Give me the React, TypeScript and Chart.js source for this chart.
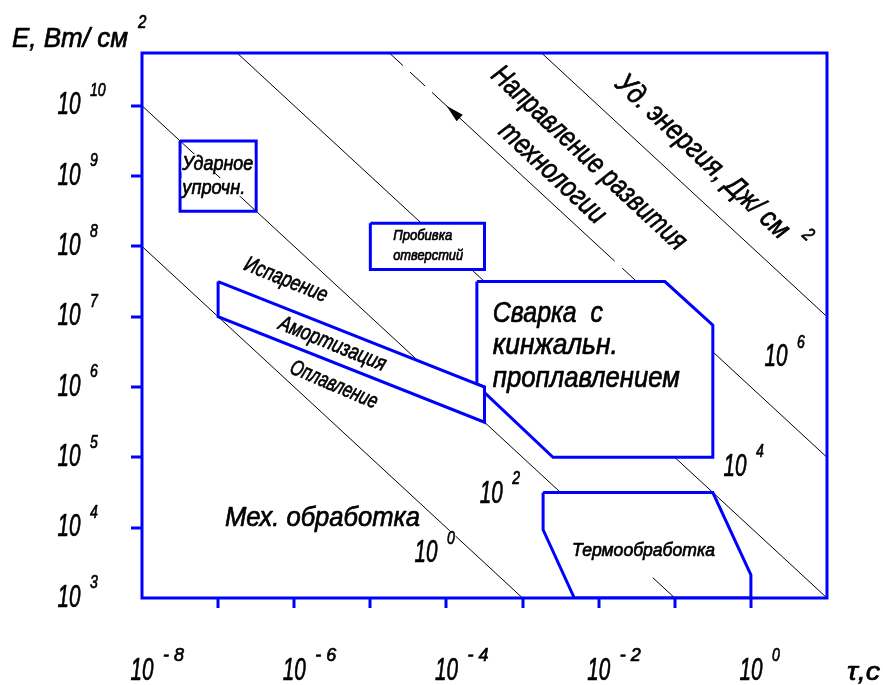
import React, { useEffect, useRef } from "react";
import { Chart, registerables } from "chart.js";

Chart.register(...registerables);

// Axis limits, log10 units: exposure time τ (s) and power density E (W/cm²)
const TAU_MIN_EXP = -8;
const TAU_MAX_EXP = 1;
const E_MIN_EXP = 3;
const E_MAX_EXP = 10.75;

const TAU_TICK_EXPS = [-7, -6, -5, -4, -3, -2, -1, 0];
const TAU_LABEL_EXPS = [-8, -6, -4, -2, 0];
const E_TICK_EXPS = [4, 5, 6, 7, 8, 9, 10];
const E_LABEL_EXPS = [3, 4, 5, 6, 7, 8, 9, 10];

// Lines of constant specific energy W = E·τ, log10 W (J/cm²)
const ENERGY_EXPS = [0, 2, 4, 8];
// The 10^6 line: plain below the welding zone, dashed with an arrow above it
const W6_EXP = 6;
const W6_LOWER = [-1.5, 1];
const W6_DASHES = [
  [-4.75, -4.57],
  [-4.48, -4.28],
  [-1.69, -1.5],
];
const W6_SHAFT = [-4.19, -1.79];
const W6_ARROW_TIP = -4.0;
// Foot of the 10^2 line that shows inside the heat-treatment zone
const W2_EXP = 2;
const W2_TAIL = [-1.29, -1];

// Process zones as [log τ, log E] vertices
const SHOCK_HARDENING = [
  [-7.5, 9.5],
  [-6.5, 9.5],
  [-6.5, 8.5],
  [-7.5, 8.5],
];
const HOLE_PUNCHING = [
  [-5, 8.33],
  [-3.5, 8.33],
  [-3.5, 7.67],
  [-5, 7.67],
];
const MELT_BAND = [
  [-7, 7.5],
  [-3.5, 6.0],
  [-3.5, 5.5],
  [-7, 7.0],
];
const KEYHOLE_WELDING = [
  [-3.6, 7.5],
  [-1.13, 7.5],
  [-0.5, 6.88],
  [-0.5, 5.0],
  [-2.6, 5.0],
  [-3.5, 5.92],
  [-3.5, 6.0],
  [-3.6, 6.04],
];
const HEAT_TREATMENT = [
  [-2.73, 4.5],
  [-0.5, 4.5],
  [0, 3.33],
  [0, 3],
  [-2.32, 3],
  [-2.73, 3.97],
];

// Energy labels: exponent and where "10" sits, [log τ, log E]
const ENERGY_LABEL_EXPS = [0, 2, 4, 6];
const ENERGY_LABEL_AT = [
  [-4.27, 3.63],
  [-3.41, 4.48],
  [-0.21, 4.86],
  [0.33, 6.42],
];

const BLUE = "#0000ff";
const FONT = '"Liberation Sans", Arial, sans-serif';

const pt = (lx: number, ly: number) => ({ x: Math.pow(10, lx), y: Math.pow(10, ly) });
const energySeg = (w: number, from: number, to: number) => [pt(from, w - from), pt(to, w - to)];

const thinLine = (data: any[], extra: any = {}) => ({
  data,
  borderColor: "#000",
  borderWidth: 1,
  pointRadius: 0,
  fill: false,
  order: 5,
  ...extra,
});

const zone = (poly: number[][], filled: boolean) => ({
  data: [...poly, poly[0]].map(([a, b]) => pt(a, b)),
  borderColor: BLUE,
  borderWidth: 3,
  backgroundColor: "#ffffff",
  borderJoinStyle: "miter",
  fill: filled ? "shape" : false,
  pointRadius: 0,
  order: 2,
});

function buildDatasets() {
  const ds: any[] = [];
  ENERGY_EXPS.forEach((w) => ds.push(thinLine(energySeg(w, TAU_MIN_EXP, TAU_MAX_EXP))));
  ds.push(thinLine(energySeg(W6_EXP, W6_LOWER[0], W6_LOWER[1])));
  W6_DASHES.forEach(([a, b]) => ds.push(thinLine(energySeg(W6_EXP, a, b))));
  ds.push(thinLine(energySeg(W6_EXP, W6_SHAFT[0], W6_SHAFT[1])));
  ds.push(zone(SHOCK_HARDENING, false));
  ds.push(zone(HOLE_PUNCHING, true));
  ds.push(zone(MELT_BAND, true));
  ds.push(zone(KEYHOLE_WELDING, true));
  ds.push(zone(HEAT_TREATMENT, true));
  ds.push(thinLine(energySeg(W2_EXP, W2_TAIL[0], W2_TAIL[1]), { order: 0 }));
  return ds;
}

type TextOpts = {
  width?: number;
  squeeze?: number;
  angle?: number;
  align?: CanvasTextAlign;
  baseline?: CanvasTextBaseline;
  bg?: boolean;
};

function text(ctx: CanvasRenderingContext2D, s: string, x: number, y: number, size: number, o: TextOpts = {}) {
  const { width, squeeze = 0.8, angle = 0, align = "left", baseline = "alphabetic", bg = true } = o;
  ctx.save();
  ctx.font = `italic ${size}px ${FONT}`;
  const w = ctx.measureText(s).width;
  const sx = width ? width / w : squeeze;
  ctx.translate(x, y);
  ctx.rotate((angle * Math.PI) / 180);
  ctx.scale(sx, 1);
  ctx.textAlign = align;
  ctx.textBaseline = baseline;
  if (bg) {
    const left = align === "center" ? -w / 2 : align === "right" || align === "end" ? -w : 0;
    const top = baseline === "middle" ? -size * 0.42 : -size * 0.74;
    ctx.fillStyle = "#ffffff";
    ctx.fillRect(left - 1, top, w + 2, size * 0.86);
  }
  ctx.fillStyle = "#000";
  ctx.strokeStyle = "#000";
  ctx.lineWidth = 0.7;
  ctx.lineJoin = "round";
  ctx.fillText(s, 0, 0);
  ctx.strokeText(s, 0, 0);
  ctx.restore();
}

// "10" with a raised exponent, centred on (cx, cy)
function power(ctx: CanvasRenderingContext2D, cx: number, cy: number, exp: number) {
  text(ctx, "10", cx, cy, 31, { width: 23, align: "center", baseline: "middle" });
  const e = exp < 0 ? `- ${Math.abs(exp)}` : String(exp);
  text(ctx, e, cx + 21, cy - 15, 19, exp < 0 ? { width: 21, baseline: "middle" } : { squeeze: 0.74, baseline: "middle" });
}

const decor = {
  id: "decor",
  afterDatasetsDraw(chart: any) {
    const { ctx, chartArea: a, scales } = chart;
    const xs = scales.x;
    const ys = scales.y;
    const px = (lx: number) => xs.getPixelForValue(Math.pow(10, lx));
    const py = (ly: number) => ys.getPixelForValue(Math.pow(10, ly));

    ctx.save();

    // arrow on the development direction
    const tx = px(W6_ARROW_TIP);
    const ty = py(W6_EXP - W6_ARROW_TIP);
    const bx = px(W6_ARROW_TIP + 0.1);
    const by = py(W6_EXP - W6_ARROW_TIP - 0.1);
    const len = Math.hypot(bx - tx, by - ty);
    const ux = (bx - tx) / len;
    const uy = (by - ty) / len;
    const L = 18;
    const H = 4.5;
    ctx.fillStyle = "#000";
    ctx.beginPath();
    ctx.moveTo(tx, ty);
    ctx.lineTo(tx + ux * L - uy * H, ty + uy * L + ux * H);
    ctx.lineTo(tx + ux * L + uy * H, ty + uy * L - ux * H);
    ctx.closePath();
    ctx.fill();

    // frame and ticks
    ctx.strokeStyle = BLUE;
    ctx.lineWidth = 3;
    ctx.strokeRect(a.left, a.top, a.right - a.left, a.bottom - a.top);
    ctx.beginPath();
    TAU_TICK_EXPS.forEach((e) => {
      const x = Math.round(px(e));
      ctx.moveTo(x, a.bottom);
      ctx.lineTo(x, a.bottom + 10);
    });
    E_TICK_EXPS.forEach((e) => {
      const y = Math.round(py(e));
      ctx.moveTo(a.left - 11, y);
      ctx.lineTo(a.left, y);
    });
    ctx.stroke();

    // axis labels
    TAU_LABEL_EXPS.forEach((e) => power(ctx, px(e), a.bottom + 73, e));
    E_LABEL_EXPS.forEach((e) => power(ctx, a.left - 73, py(e), e));
    text(ctx, "E, Вт/ см", 12, 47, 28, { width: 116, bg: false });
    text(ctx, "2", 138, 23, 19, { baseline: "middle", bg: false });
    text(ctx, "τ,c", 847, 680, 26, { width: 33, bg: false });

    // energy level labels
    ENERGY_LABEL_EXPS.forEach((e, i) => {
      const [lx, ly] = ENERGY_LABEL_AT[i];
      power(ctx, px(lx), py(ly), e);
    });

    // zone captions
    text(ctx, "Ударное", px(-7.47), py(9.09), 21, { width: 71 });
    text(ctx, "упрочн.", px(-7.47), py(8.75), 21, { width: 63 });
    text(ctx, "Пробивка", px(-4.7), py(8.09), 15, { width: 59 });
    text(ctx, "отверстий", px(-4.7), py(7.81), 15, { width: 70 });
    text(ctx, "Сварка  с", px(-3.39), py(6.93), 30, { width: 110 });
    text(ctx, "кинжальн.", px(-3.39), py(6.47), 30, { width: 125 });
    text(ctx, "проплавлением", px(-3.39), py(6.0), 30, { width: 187 });
    text(ctx, "Мех. обработка", px(-6.91), py(4.03), 28, { width: 195 });
    text(ctx, "Термообработка", px(-2.35), py(3.6), 19, { width: 143 });

    text(ctx, "Испарение", px(-6.11), py(7.52), 22, { width: 88, angle: 22, align: "center", baseline: "middle" });
    text(ctx, "Амортизация", px(-5.5), py(6.61), 22, { width: 114, angle: 22, align: "center", baseline: "middle" });
    text(ctx, "Оплавление", px(-5.48), py(6.03), 22, { width: 93, angle: 23, align: "center", baseline: "middle" });

    text(ctx, "Направление развития", px(-2.13), py(9.25), 29, { width: 256, angle: 43, align: "center", baseline: "middle" });
    text(ctx, "технологии", px(-2.61), py(9.04), 29, { width: 135, angle: 43, align: "center", baseline: "middle" });
    text(ctx, "Уд. энергия, Дж/ см", px(-0.64), py(9.27), 29, { width: 227, angle: 43, align: "center", baseline: "middle" });
    text(ctx, "2", px(0.75), py(8.16), 19, { angle: 43, align: "center", baseline: "middle" });

    ctx.restore();
  },
};

export default function App() {
  const ref = useRef<HTMLCanvasElement>(null);

  useEffect(() => {
    const canvas = ref.current;
    if (!canvas) return;
    const chart = new Chart(canvas, {
      type: "line",
      data: { datasets: buildDatasets() },
      options: {
        responsive: false,
        animation: false,
        events: [],
        layout: { padding: { left: 142, top: 53, right: 56, bottom: 87 } },
        plugins: { legend: { display: false }, tooltip: { enabled: false } },
        elements: { point: { radius: 0 }, line: { tension: 0 } },
        scales: {
          x: { type: "logarithmic", min: Math.pow(10, TAU_MIN_EXP), max: Math.pow(10, TAU_MAX_EXP), display: false },
          y: { type: "logarithmic", min: Math.pow(10, E_MIN_EXP), max: Math.pow(10, E_MAX_EXP), display: false },
        },
      } as any,
      plugins: [decor],
    });
    return () => chart.destroy();
  }, []);

  return (
    <div style={{ position: "absolute", left: 0, top: 0, width: 883, height: 685, background: "#fff" }}>
      <canvas ref={ref} width={883} height={685} style={{ display: "block", width: 883, height: 685 }} />
    </div>
  );
}
